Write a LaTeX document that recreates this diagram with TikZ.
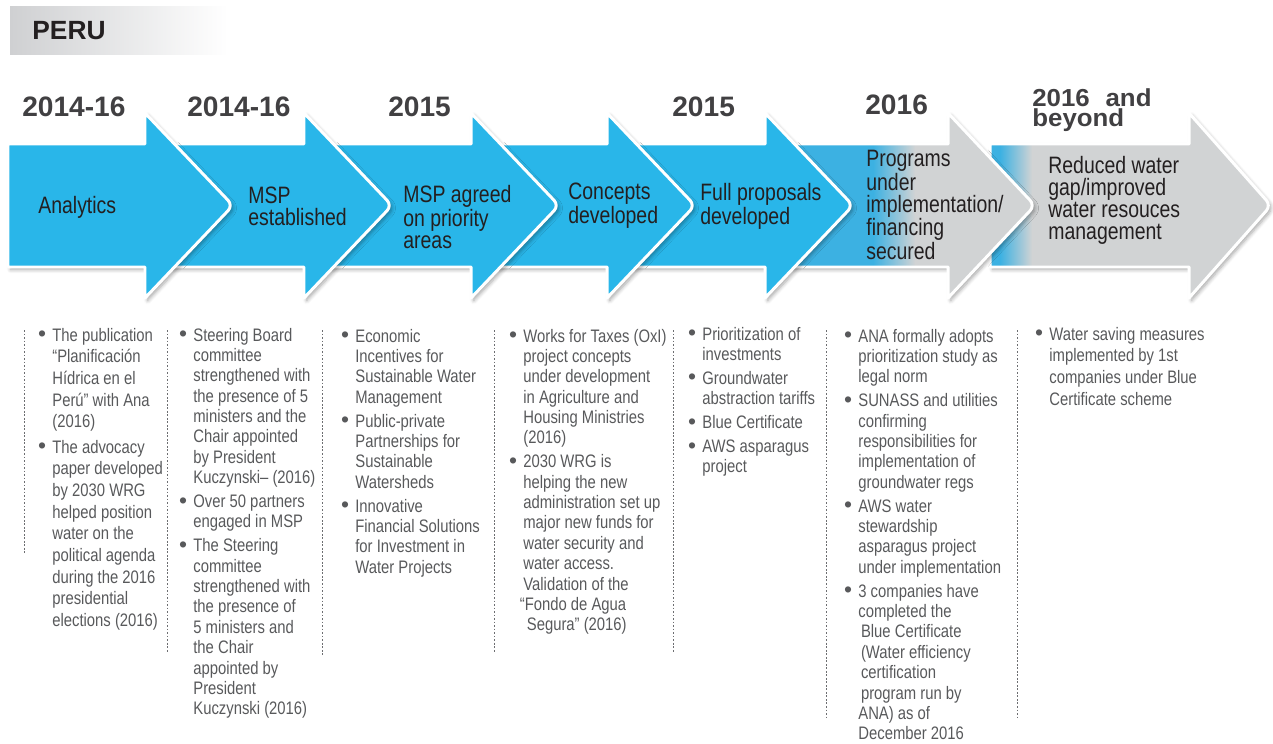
\documentclass[tikz,border=0pt]{standalone}
\usepackage{fontspec}
\setmainfont{Liberation Sans}[FakeStretch=0.82]
\newfontfamily\yearfont{Liberation Sans}
\newfontfamily\yearwidefont{Liberation Sans}[FakeStretch=1.05]
\usetikzlibrary{shadows.blur}

\definecolor{arrowblue}{HTML}{29B6E9}
\definecolor{arrowbluetwo}{HTML}{3CB1E2}
\definecolor{arrowgrey}{HTML}{D1D3D4}
\definecolor{bannergrey}{HTML}{CFD0D2}
\definecolor{yeargrey}{HTML}{414042}
\definecolor{notegrey}{HTML}{58595B}
\definecolor{labelblack}{HTML}{231F20}
\definecolor{sepgrey}{HTML}{6D6E71}

\newcommand\dotitem{\llap{\raisebox{-0.4pt}{\yearfont\fontsize{13}{12}\selectfont\textbullet}\hspace{3.5pt}}}

\begin{document}
\begin{tikzpicture}[x=0.02cm,y=-0.02cm,
  arrowrim/.style={draw=white,line width=1.7pt,line join=round,
    blur shadow={shadow xshift=1.5pt,shadow yshift=-1.5pt,shadow blur steps=6,shadow opacity=35}},
  year/.style={anchor=west,inner sep=0pt,text=yeargrey,align=left,
    font=\yearfont\bfseries\fontsize{16}{12.5}\selectfont},
  arrowtext/.style={anchor=west,inner sep=0pt,text=labelblack,align=left,
    font=\fontsize{13.5}{12.5}\selectfont},
  notes/.style={anchor=base west,inner sep=0pt,text=notegrey,
    font=\fontsize{10.3}{11.6}\selectfont},
  sep/.style={draw=sepgrey,line width=0.5pt,dash pattern=on 1pt off 1pt}]
\useasboundingbox (0,0) rectangle (1273,743);

% title
\shade[left color=bannergrey,middle color=bannergrey!80,right color=white] (10,7) rectangle (228,55);
\node[anchor=west,inner sep=0pt,text=labelblack,font=\yearfont\bfseries\fontsize{15}{18}\selectfont] (peru) at (32,31) {PERU};

% arrows, right to left
\draw[arrowrim,fill=arrowgrey,path picture={
    \fill[arrowbluetwo] (980,100) rectangle (1000,310);
    \shade[left color=arrowbluetwo,right color=arrowgrey] (1000,100) rectangle (1032,310);}]
  (990,144) -- (1189,144) -- (1189,113) [rounded corners=4pt] -- (1271,205.5) [sharp corners] -- (1189,298) -- (1189,267) -- (990,267) -- cycle;
\draw[arrowrim,fill=arrowgrey,path picture={
    \fill[arrowbluetwo] (760,100) rectangle (873,310);
    \shade[left color=arrowbluetwo,right color=arrowgrey] (873,100) rectangle (915,310);}]
  (770,144) -- (948,144) -- (948,113) [rounded corners=4pt] -- (1035,205.5) [sharp corners] -- (948,298) -- (948,267) -- (770,267) -- cycle;
\draw[arrowrim,fill=arrowblue] (612,144) -- (765,144) -- (765,113) [rounded corners=4pt] -- (853,205.5) [sharp corners] -- (765,298) -- (765,267) -- (612,267) -- cycle;
\draw[arrowrim,fill=arrowblue] (476,144) -- (607,144) -- (607,113) [rounded corners=4pt] -- (695,205.5) [sharp corners] -- (607,298) -- (607,267) -- (476,267) -- cycle;
\draw[arrowrim,fill=arrowblue] (310,144) -- (471,144) -- (471,113) [rounded corners=4pt] -- (559,205.5) [sharp corners] -- (471,298) -- (471,267) -- (310,267) -- cycle;
\draw[arrowrim,fill=arrowblue] (150,144) -- (304,144) -- (304,113) [rounded corners=4pt] -- (392,205.5) [sharp corners] -- (304,298) -- (304,267) -- (150,267) -- cycle;
\draw[arrowrim,fill=arrowblue] (8,144) -- (145,144) -- (145,113) [rounded corners=4pt] -- (233,205.5) [sharp corners] -- (145,298) -- (145,267) -- (8,267) -- cycle;

% years
\node[year] (yr1) at (22,107) {2014-16};
\node[year] (yr2) at (187,107) {2014-16};
\node[year] (yr3) at (388,107) {2015};
\node[year] (yr4) at (672,107) {2015};
\node[year] (yr5) at (865,105) {2016};
\node[year,font=\yearwidefont\bfseries\fontsize{14}{11}\selectfont] (yr6) at (1032,110) {2016\hspace{9pt}and\\beyond};

% steps
\node[arrowtext] (analytics) at (38,207) {Analytics};
\node[arrowtext] (mspest) at (248,206) {MSP\\established};
\node[arrowtext] (msparea) at (403,217) {MSP agreed\\on priority\\areas};
\node[arrowtext] (concepts) at (568,206) {Concepts\\developed};
\node[arrowtext] (proposals) at (700,206) {Full proposals\\developed};
\node[arrowtext] (programs) at (866,205) {Programs\\under\\implementation/\\financing\\secured};
\node[arrowtext] (reduced) at (1048,200) {Reduced water\\gap/improved\\water resouces\\management};

% separators
\draw[sep] (24,330) -- (24,553);
\draw[sep] (167,330) -- (167,652);
\draw[sep] (322,330) -- (322,655);
\draw[sep] (494,330) -- (494,653);
\draw[sep] (673,330) -- (673,652);
\draw[sep] (826,330) -- (826,718);
\draw[sep] (1017,330) -- (1017,718);

% notes
\node[notes,font=\fontsize{10.3}{12.35}\selectfont] (notes1) at (52,341) {\begin{tabular}[t]{@{}l@{}}
\dotitem The publication\\ “Planificación\\ Hídrica en el\\ Perú” with Ana\\ (2016)\\[2pt]
\dotitem The advocacy\\ paper developed\\ by 2030 WRG\\ helped position\\ water on the\\ political agenda\\ during the 2016\\ presidential\\ elections (2016)
\end{tabular}};
\node[notes] (notes2) at (193,341) {\begin{tabular}[t]{@{}l@{}}
\dotitem Steering Board\\ committee\\ strengthened with\\ the presence of 5\\ ministers and the\\ Chair appointed\\ by President\\ Kuczynski– (2016)\\[2pt]
\dotitem Over 50 partners\\ engaged in MSP\\[2pt]
\dotitem The Steering\\ committee\\ strengthened with\\ the presence of\\ 5 ministers and\\ the Chair\\ appointed by\\ President\\ Kuczynski (2016)
\end{tabular}};
\node[notes] (notes3) at (355,342) {\begin{tabular}[t]{@{}l@{}}
\dotitem Economic\\ Incentives for\\ Sustainable Water\\ Management\\[2pt]
\dotitem Public-private\\ Partnerships for\\ Sustainable\\ Watersheds\\[2pt]
\dotitem Innovative\\ Financial Solutions\\ for Investment in\\ Water Projects
\end{tabular}};
\node[notes] (notes4) at (523,342) {\begin{tabular}[t]{@{}l@{}}
\dotitem Works for Taxes (OxI)\\ project concepts\\ under development\\ in Agriculture and\\ Housing Ministries\\ (2016)\\[2pt]
\dotitem 2030 WRG is\\ helping the new\\ administration set up\\ major new funds for\\ water security and\\ water access.\\ Validation of the\\ \hspace{-2pt}“Fondo de Agua\\ \hspace{2pt}Segura” (2016)
\end{tabular}};
\node[notes] (notes5) at (702,340) {\begin{tabular}[t]{@{}l@{}}
\dotitem Prioritization of\\ investments\\[2pt]
\dotitem Groundwater\\ abstraction tariffs\\[2pt]
\dotitem Blue Certificate\\[2pt]
\dotitem AWS asparagus\\ project
\end{tabular}};
\node[notes] (notes6) at (858,342) {\begin{tabular}[t]{@{}l@{}}
\dotitem ANA formally adopts\\ prioritization study as\\ legal norm\\[2pt]
\dotitem SUNASS and utilities\\ confirming\\ responsibilities for\\ implementation of\\ groundwater regs\\[2pt]
\dotitem AWS water\\ stewardship\\ asparagus project\\ under implementation\\[2pt]
\dotitem 3 companies have\\ completed the\\ \hspace{1.5pt}Blue Certificate\\ \hspace{1.5pt}(Water efficiency\\ \hspace{1.5pt}certification\\ \hspace{1.5pt}program run by\\ ANA) as of\\ December 2016
\end{tabular}};
\node[notes,font=\fontsize{10.3}{12.35}\selectfont] (notes7) at (1049,340) {\begin{tabular}[t]{@{}l@{}}
\dotitem Water saving measures\\ implemented by 1st\\ companies under Blue\\ Certificate scheme
\end{tabular}};
\end{tikzpicture}
\end{document}
